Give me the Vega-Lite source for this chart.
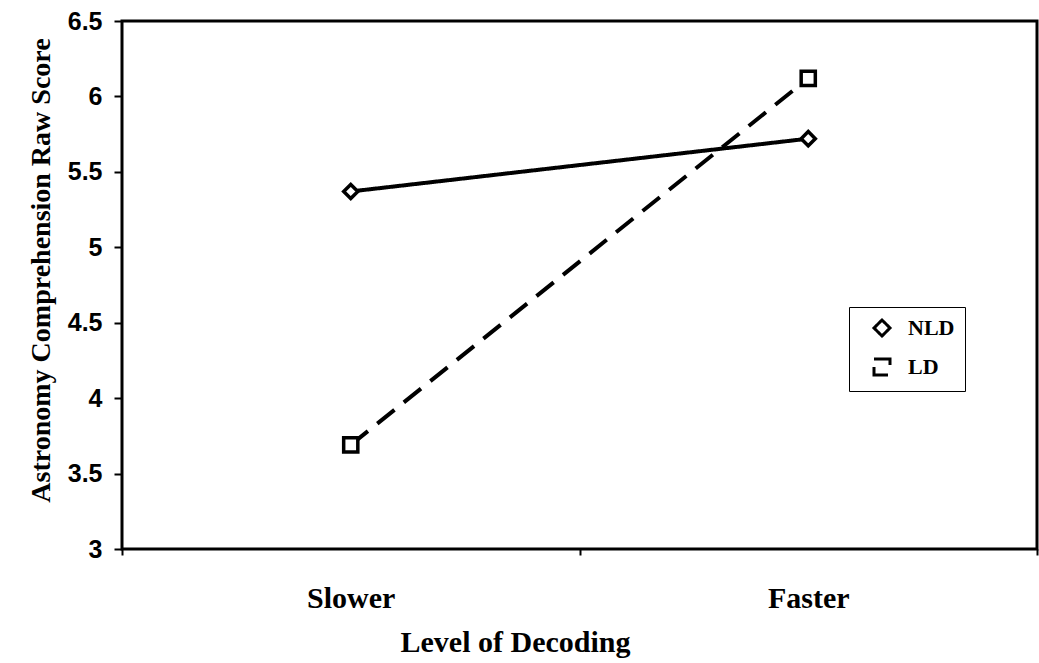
{
  "$schema": "https://vega.github.io/schema/vega-lite/v6.json",
  "autosize": "none",
  "width": 915,
  "height": 528,
  "padding": {"left": 122, "top": 21, "right": 2, "bottom": 114},
  "background": "white",
  "config": {
    "view": {"stroke": "black", "strokeWidth": 3},
    "axis": {"domain": false, "grid": false}
  },
  "data": {
    "values": [
      {"decoding": "Slower", "group": "NLD", "score": 5.37},
      {"decoding": "Faster", "group": "NLD", "score": 5.72},
      {"decoding": "Slower", "group": "LD", "score": 3.69},
      {"decoding": "Faster", "group": "LD", "score": 6.12}
    ]
  },
  "encoding": {
    "x": {
      "field": "decoding",
      "type": "nominal",
      "sort": ["Slower", "Faster"],
      "scale": {"type": "band", "paddingInner": 0, "paddingOuter": 0},
      "axis": {
        "title": "Level of Decoding",
        "labelAngle": 0,
        "tickBand": "extent",
        "tickColor": "black",
        "tickWidth": 2,
        "tickSize": 6,
        "labelPadding": 28,
        "labelFont": "Liberation Serif",
        "labelFontWeight": "bold",
        "labelFontSize": 30,
        "labelColor": "black",
        "titleFont": "Liberation Serif",
        "titleFontWeight": "bold",
        "titleFontSize": 30,
        "titleColor": "black",
        "titlePadding": 14,
        "titleX": 393
      }
    },
    "y": {
      "field": "score",
      "type": "quantitative",
      "scale": {"domain": [3, 6.5], "nice": false, "zero": false},
      "axis": {
        "title": "Astronomy Comprehension Raw Score",
        "values": [3, 3.5, 4, 4.5, 5, 5.5, 6, 6.5],
        "format": "~f",
        "tickColor": "black",
        "tickWidth": 2,
        "tickSize": 8,
        "labelPadding": 12,
        "labelFont": "Liberation Sans",
        "labelFontWeight": "bold",
        "labelFontSize": 25,
        "labelColor": "black",
        "titleFont": "Liberation Serif",
        "titleFontWeight": "bold",
        "titleFontSize": 28,
        "titleColor": "black",
        "titlePadding": 12,
        "titleY": 249
      }
    }
  },
  "layer": [
    {
      "mark": {"type": "line", "color": "black", "strokeWidth": 4},
      "encoding": {
        "strokeDash": {
          "field": "group",
          "type": "nominal",
          "scale": {"domain": ["NLD", "LD"], "range": [[1, 0], [22, 12]]},
          "legend": {
            "title": null,
            "orient": "none",
            "legendX": 727,
            "legendY": 286,
            "strokeColor": "black",
            "padding": 10,
            "cornerRadius": 0,
            "symbolType": "M-3,0L3,0",
            "symbolSize": 256,
            "symbolOffset": 12,
            "labelOffset": 15,
            "symbolStrokeWidth": 3,
            "labelFont": "Liberation Serif",
            "labelFontWeight": "bold",
            "labelFontSize": 22,
            "labelColor": "black",
            "rowPadding": 11
          }
        }
      }
    },
    {
      "mark": {"type": "point", "filled": false, "fill": "white", "stroke": "black", "strokeWidth": 3.5, "size": 200, "opacity": 1},
      "encoding": {
        "shape": {
          "field": "group",
          "type": "nominal",
          "scale": {"domain": ["NLD", "LD"], "range": ["diamond", "square"]},
          "legend": {
            "title": null,
            "orient": "none",
            "legendX": 727,
            "legendY": 286,
            "strokeColor": "black",
            "padding": 10,
            "cornerRadius": 0,
            "symbolSize": 150,
            "symbolOffset": 12,
            "labelOffset": 15,
            "symbolStrokeWidth": 3,
            "labelFont": "Liberation Serif",
            "labelFontWeight": "bold",
            "labelFontSize": 22,
            "labelColor": "black",
            "rowPadding": 11
          }
        }
      }
    }
  ]
}
